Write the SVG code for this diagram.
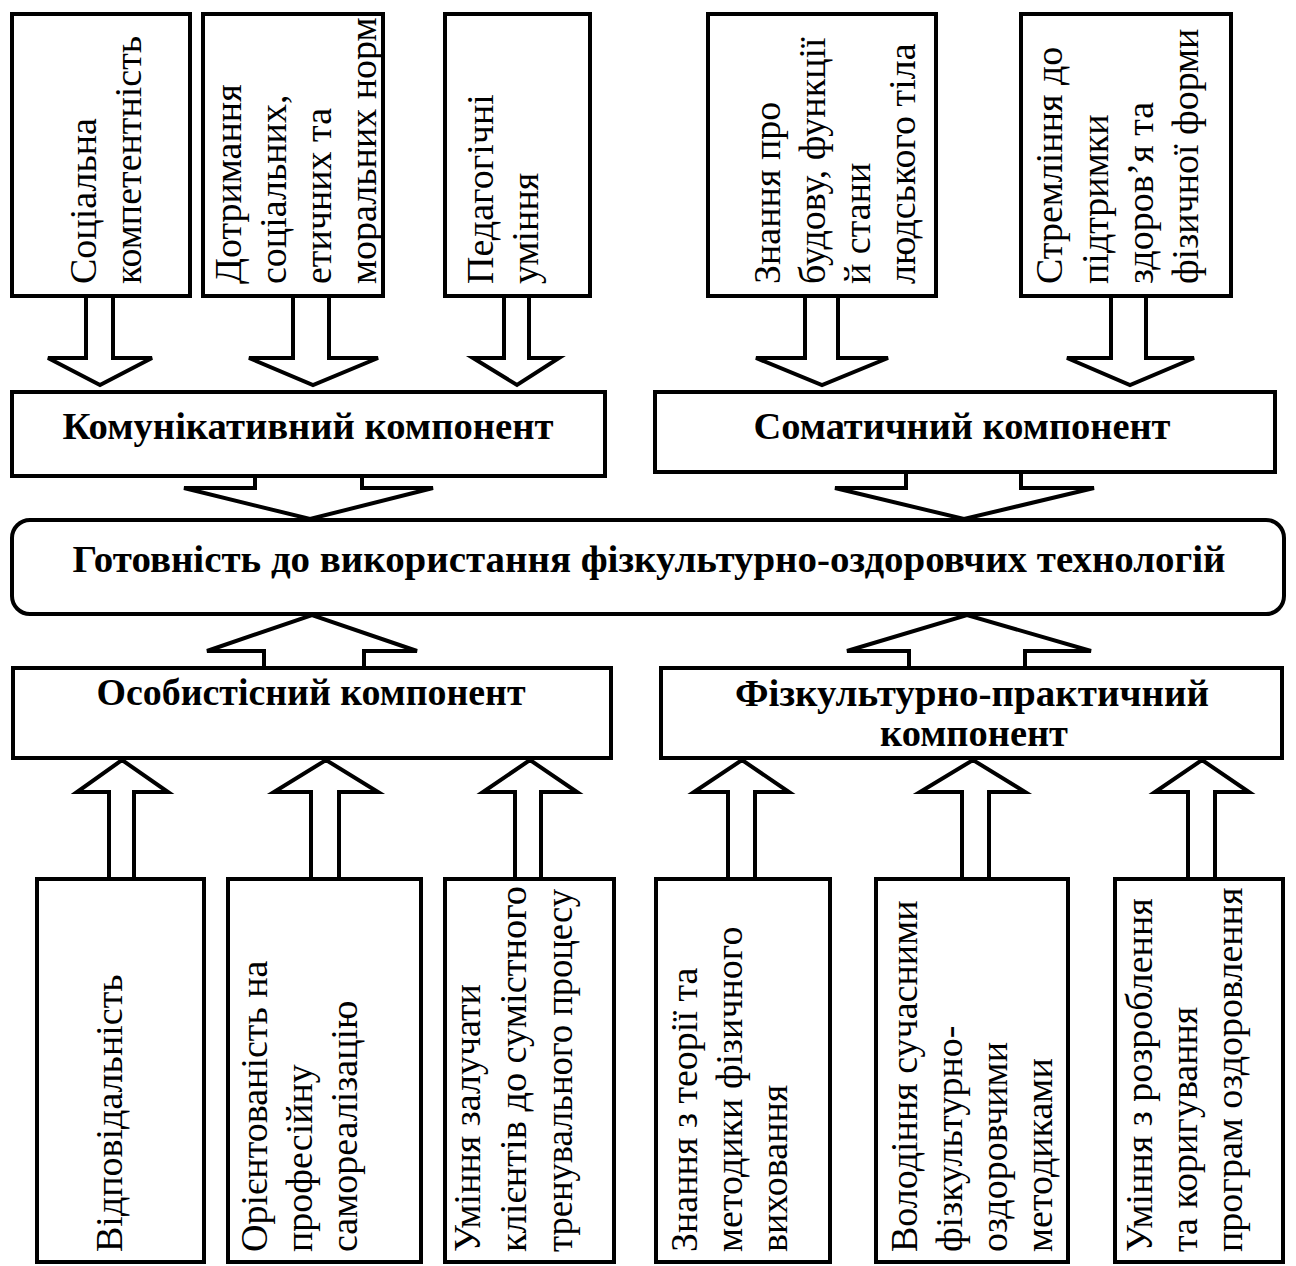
<svg xmlns="http://www.w3.org/2000/svg" width="1296" height="1266" viewBox="0 0 1296 1266">
<style>
.box{fill:#fff;stroke:#000;stroke-width:4}
.arr{fill:#fff;stroke:#000;stroke-width:4;stroke-linejoin:miter}
.h{font-family:"Liberation Serif","Times New Roman",serif;font-weight:bold;font-size:37px;text-anchor:middle;fill:#000}
.v{font-family:"Liberation Serif","Times New Roman",serif;font-size:38px;fill:#000}
</style>
<rect width="1296" height="1266" fill="#fff"/>
<g id="connectors">
<polygon class="arr" points="86,290 113,290 113,358 152,358 100,385 48,358 86,358"/>
<polygon class="arr" points="293,290 329,290 329,358 378,358 313,385 249,358 293,358"/>
<polygon class="arr" points="504,290 529,290 529,358 559,358 517,385 473,358 504,358"/>
<polygon class="arr" points="805,290 838,290 838,358 888,358 822,385 756,358 805,358"/>
<polygon class="arr" points="1111,290 1146,290 1146,358 1194,358 1130,385 1067,358 1111,358"/>
<polygon class="arr" points="255,470 362,470 362,488 433,488 310,519 184,488 255,488"/>
<polygon class="arr" points="906,466 1021,466 1021,488 1094,488 964,519 835,488 906,488"/>
<polygon class="arr" points="264,674 364,674 364,651 417,651 312,615 207,651 264,651"/>
<polygon class="arr" points="909,674 1025,674 1025,651 1091,651 967,615 847,651 909,651"/>
<polygon class="arr" points="109,885 134,885 134,792 168,792 122,760 77,792 109,792"/>
<polygon class="arr" points="311,885 339,885 339,792 378,792 326,760 274,792 311,792"/>
<polygon class="arr" points="515,885 541,885 541,792 577,792 530,760 483,792 515,792"/>
<polygon class="arr" points="728,885 755,885 755,792 789,792 742,760 694,792 728,792"/>
<polygon class="arr" points="962,885 989,885 989,792 1025,792 973,760 920,792 962,792"/>
<polygon class="arr" points="1188,885 1215,885 1215,792 1249,792 1202,760 1155,792 1188,792"/>
</g>
<g id="t1"><rect class="box" x="12" y="14" width="178" height="282"/>
<text class="v" transform="translate(96,284) rotate(-90)">Соціальна</text>
<text class="v" transform="translate(141,284) rotate(-90)">компетентність</text></g>
<g id="t2"><rect class="box" x="203" y="14" width="180" height="282"/>
<text class="v" transform="translate(241,284) rotate(-90)">Дотримання</text>
<text class="v" transform="translate(286,284) rotate(-90)">соціальних,</text>
<text class="v" transform="translate(331,284) rotate(-90)">етичних та</text>
<text class="v" transform="translate(376,284) rotate(-90)">моральних норм</text></g>
<g id="t3"><rect class="box" x="445" y="14" width="145" height="282"/>
<text class="v" transform="translate(493,284) rotate(-90)">Педагогічні</text>
<text class="v" transform="translate(538,284) rotate(-90)">уміння</text></g>
<g id="t4"><rect class="box" x="708" y="14" width="228" height="282"/>
<text class="v" transform="translate(780,284) rotate(-90)">Знання про</text>
<text class="v" transform="translate(825,284) rotate(-90)">будову, функції</text>
<text class="v" transform="translate(870,284) rotate(-90)">й стани</text>
<text class="v" transform="translate(915,284) rotate(-90)">людського тіла</text></g>
<g id="t5"><rect class="box" x="1021" y="14" width="210" height="282"/>
<text class="v" transform="translate(1062,284) rotate(-90)">Стремління до</text>
<text class="v" transform="translate(1108,284) rotate(-90)">підтримки</text>
<text class="v" transform="translate(1153,284) rotate(-90)">здоров’я та</text>
<text class="v" transform="translate(1198,284) rotate(-90)">фізичної форми</text></g>
<g id="komunikatyvnyi"><rect class="box" x="12" y="392" width="593" height="84"/>
<text class="h" x="308" y="439" textLength="491" lengthAdjust="spacingAndGlyphs">Комунікативний компонент</text></g>
<g id="somatychnyi"><rect class="box" x="655" y="392" width="620" height="80"/>
<text class="h" x="962" y="439" textLength="417" lengthAdjust="spacingAndGlyphs">Соматичний компонент</text></g>
<g id="gotovnist"><rect class="box" x="12" y="520" width="1272" height="94" rx="18" ry="18"/>
<text class="h" x="649" y="572" textLength="1153" lengthAdjust="spacingAndGlyphs">Готовність до використання фізкультурно-оздоровчих технологій</text></g>
<g id="osobystisnyi"><rect class="box" x="13" y="668" width="598" height="90"/>
<text class="h" x="311" y="705" textLength="429" lengthAdjust="spacingAndGlyphs">Особистісний компонент</text></g>
<g id="fizkulturno"><rect class="box" x="661" y="668" width="621" height="90"/>
<text class="h" x="972" y="706" textLength="474" lengthAdjust="spacingAndGlyphs">Фізкультурно-практичний</text>
<text class="h" x="974" y="746" textLength="188" lengthAdjust="spacingAndGlyphs">компонент</text></g>
<g id="b1"><rect class="box" x="37" y="879" width="167" height="383"/>
<text class="v" transform="translate(122,1252) rotate(-90)">Відповідальність</text></g>
<g id="b2"><rect class="box" x="228" y="879" width="193" height="383"/>
<text class="v" transform="translate(267,1252) rotate(-90)">Орієнтованість на</text>
<text class="v" transform="translate(312,1252) rotate(-90)">професійну</text>
<text class="v" transform="translate(357,1252) rotate(-90)">самореалізацію</text></g>
<g id="b3"><rect class="box" x="445" y="879" width="169" height="383"/>
<text class="v" transform="translate(480,1252) rotate(-90)">Уміння залучати</text>
<text class="v" transform="translate(526,1252) rotate(-90)" textLength="366" lengthAdjust="spacingAndGlyphs">клієнтів до сумістного</text>
<text class="v" transform="translate(572,1252) rotate(-90)" textLength="363" lengthAdjust="spacingAndGlyphs">тренувального процесу</text></g>
<g id="b4"><rect class="box" x="656" y="879" width="174" height="383"/>
<text class="v" transform="translate(697,1252) rotate(-90)">Знання з теорії та</text>
<text class="v" transform="translate(742,1252) rotate(-90)">методики фізичного</text>
<text class="v" transform="translate(787,1252) rotate(-90)">виховання</text></g>
<g id="b5"><rect class="box" x="876" y="879" width="192" height="383"/>
<text class="v" transform="translate(917,1252) rotate(-90)">Володіння сучасними</text>
<text class="v" transform="translate(962,1252) rotate(-90)">фізкультурно-</text>
<text class="v" transform="translate(1007,1252) rotate(-90)">оздоровчими</text>
<text class="v" transform="translate(1052,1252) rotate(-90)">методиками</text></g>
<g id="b6"><rect class="box" x="1115" y="879" width="168" height="383"/>
<text class="v" transform="translate(1152,1252) rotate(-90)">Уміння з розроблення</text>
<text class="v" transform="translate(1197,1252) rotate(-90)">та коригування</text>
<text class="v" transform="translate(1242,1252) rotate(-90)">програм оздоровлення</text></g>
</svg>
